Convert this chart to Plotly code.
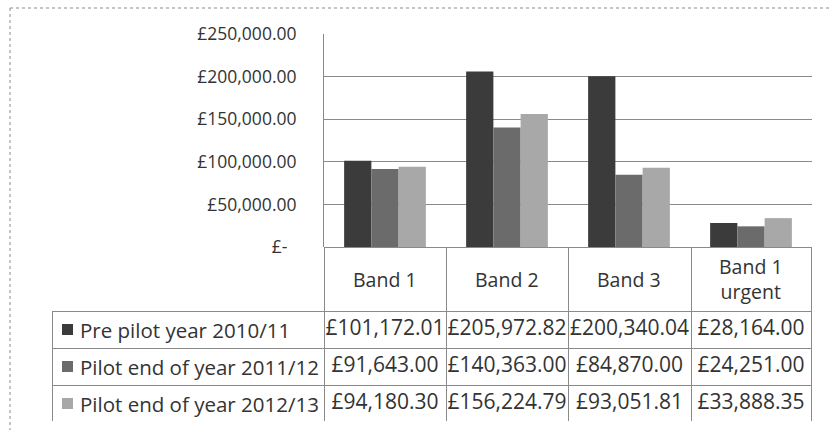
import plotly.graph_objects as go

W, H = 829, 430

categories = ["Band 1", "Band 2", "Band 3", "Band 1 urgent"]
header_labels = ["Band 1", "Band 2", "Band 3", "Band 1<br>urgent"]
series_names = ["Pre pilot year 2010/11", "Pilot end of year 2011/12", "Pilot end of year 2012/13"]
pre_pilot_2010_11 = [101172.01, 205972.82, 200340.04, 28164.00]
pilot_2011_12 = [91643.00, 140363.00, 84870.00, 24251.00]
pilot_2012_13 = [94180.30, 156224.79, 93051.81, 33888.35]
series_values = [pre_pilot_2010_11, pilot_2011_12, pilot_2012_13]
series_colors = ["#3b3b3b", "#6b6b6b", "#a8a8a8"]
tick_values = [0, 50000, 100000, 150000, 200000, 250000]
tick_labels = ["£-\u00a0\u00a0", "£50,000.00", "£100,000.00", "£150,000.00", "£200,000.00", "£250,000.00"]

FONT = "Open Sans"
TXT = "#333333"
LINE = "#8a8a8a"

def px_x(v):
    return v / W

def px_y(v):
    return 1 - v / H

TABLE_TOP, HEADER_H, ROW_H = 247, 64, 37
TABLE_BOTTOM = TABLE_TOP + HEADER_H + ROW_H * len(series_names)

fig = go.Figure()
for name, vals, col in zip(series_names, series_values, series_colors):
    fig.add_trace(go.Bar(x=categories, y=vals, name=name, marker_color=col,
                         marker_line_width=0, showlegend=False))

def money(v):
    return f"£{v:,.2f}"

cols = [[""] * len(series_names)] + [[money(s[i]) for s in series_values]
                                     for i in range(len(categories))]

fig.add_trace(go.Table(
    domain=dict(x=[px_x(52), px_x(811)], y=[px_y(TABLE_BOTTOM), px_y(TABLE_TOP)]),
    columnwidth=[272, 122, 122, 123, 120],
    header=dict(values=[""] * 5,
                height=HEADER_H,
                fill_color="rgba(0,0,0,0)",
                line=dict(color=["rgba(0,0,0,0)"] + [LINE] * 4, width=1),
                font=dict(family=FONT, size=19, color=TXT)),
    cells=dict(values=cols,
               height=ROW_H,
               fill_color="white",
               line=dict(color=LINE, width=1),
               align="center",
               font=dict(family=FONT, size=21, color=TXT)),
))

annotations = []
shapes = []
for cat, lab in zip(categories, header_labels):
    annotations.append(dict(x=cat, xref="x", y=px_y(TABLE_TOP + HEADER_H / 2), yref="paper",
                            text=lab, showarrow=False, yanchor="middle", xanchor="center",
                            font=dict(family=FONT, size=19.5, color=TXT)))
SW = 11
for i, (name, col) in enumerate(zip(series_names, series_colors)):
    yc = TABLE_TOP + HEADER_H + ROW_H * (i + 0.5)
    annotations.append(dict(x=px_x(78), xref="paper", y=px_y(yc), yref="paper",
                            text=name, showarrow=False, xanchor="left", yanchor="middle",
                            font=dict(family=FONT, size=20.5, color=TXT)))
    shapes.append(dict(type="rect", xref="paper", yref="paper",
                       x0=px_x(62), x1=px_x(62 + SW), y0=px_y(yc - SW / 2), y1=px_y(yc + SW / 2),
                       fillcolor=col, line=dict(width=0)))

shapes += [
    dict(type="line", xref="paper", yref="paper", x0=px_x(10), x1=px_x(10),
         y0=px_y(8), y1=0, line=dict(color=LINE, width=1, dash="dot")),
    dict(type="line", xref="paper", yref="paper", x0=px_x(10), x1=1,
         y0=px_y(8), y1=px_y(8), line=dict(color=LINE, width=1, dash="dot")),
]

fig.update_layout(
    width=W, height=H,
    margin=dict(l=0, r=0, t=0, b=0, autoexpand=False),
    paper_bgcolor="white", plot_bgcolor="white",
    barmode="group", bargap=0.33, bargroupgap=0,
    font=dict(family=FONT, color=TXT),
    xaxis=dict(domain=[px_x(324), px_x(812)], showticklabels=False, ticks="",
               showgrid=False, showline=False, zeroline=False, fixedrange=True,
               automargin=False),
    yaxis=dict(domain=[px_y(TABLE_TOP), px_y(34)], range=[0, 250000],
               tickvals=tick_values, ticktext=tick_labels,
               tickfont=dict(family=FONT, size=17.5, color=TXT),
               ticks="", ticklabelstandoff=23,
               showgrid=True, gridcolor=LINE, gridwidth=1,
               showline=True, linecolor=LINE, linewidth=1,
               zeroline=False, fixedrange=True, automargin=False),
    annotations=annotations,
    shapes=shapes,
)

fig.write_html("out.html", config={"displayModeBar": False},
               post_script="document.body.style.margin='0';document.body.style.padding='0';")
